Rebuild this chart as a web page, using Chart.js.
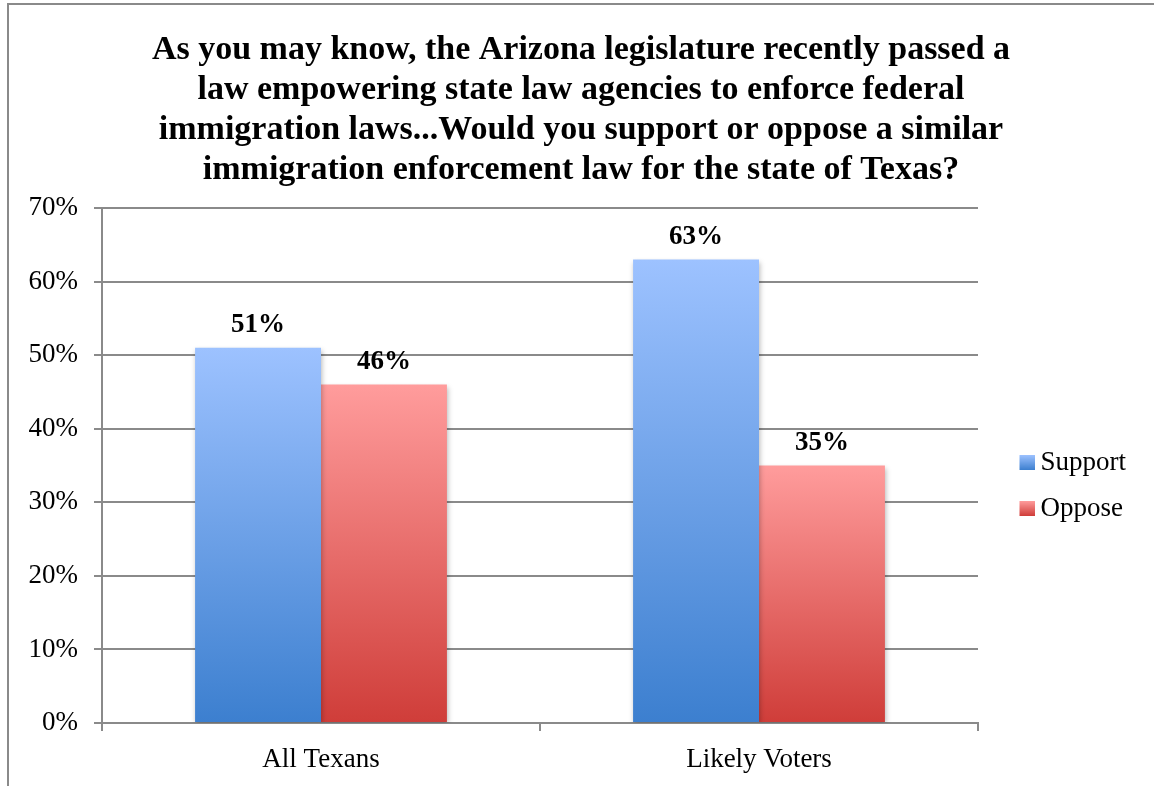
<!DOCTYPE html>
<html>
<head>
<meta charset="utf-8">
<script src="https://cdn.jsdelivr.net/npm/chart.js@4.4.1/dist/chart.umd.min.js"></script>
<style>
  html, body { margin: 0; padding: 0; background: #fff; overflow: hidden; }
  #wrap { position: relative; width: 1154px; height: 786px; }
  #frame { position: absolute; left: 7px; top: 3px; width: 1200px; height: 900px;
           border-top: 2px solid #8a8a8a; border-left: 2px solid #8a8a8a; pointer-events: none; }
</style>
</head>
<body>
<div id="wrap">
  <canvas id="chart" width="1154" height="786"></canvas>
  <div id="frame"></div>
</div>
<script>
// 설문 결과 데이터
const groups = ['All Texans', 'Likely Voters'];
const supportValues = [51, 63];
const opposeValues = [46, 35];
const titleLines = [
  'As you may know, the Arizona legislature recently passed a',
  'law empowering state law agencies to enforce federal',
  'immigration laws...Would you support or oppose a similar',
  'immigration enforcement law for the state of Texas?'
];

const SERIF = '"Liberation Serif", "DejaVu Serif", serif';
const supportColors = ['#9dc2ff', '#3c7fcf'];
const opposeColors = ['#ff9c9c', '#cf3d39'];

// 막대마다 위(밝음) → 아래(진함) 그라데이션
function barGradient(cols) {
  return function (context) {
    const chart = context.chart;
    if (!chart.chartArea || context.parsed == null) return cols[1];
    const yScale = chart.scales.y;
    const yTop = yScale.getPixelForValue(context.parsed.y);
    const yBase = yScale.getPixelForValue(0);
    const g = chart.ctx.createLinearGradient(0, yTop, 0, yBase);
    g.addColorStop(0, cols[0]);
    g.addColorStop(1, cols[1]);
    return g;
  };
}

// 범례용 작은 그라데이션 사각형 (오른쪽 15px에 사각형)
function legendSwatch(cols) {
  const c = document.createElement('canvas');
  c.width = 30;
  c.height = 15;
  const cx = c.getContext('2d');
  const g = cx.createLinearGradient(0, 0, 0, 15);
  g.addColorStop(0, cols[0]);
  g.addColorStop(1, cols[1]);
  cx.fillStyle = g;
  cx.fillRect(15, 0, 15, 15);
  return c;
}

// 막대 그림자
const barShadow = {
  id: 'barShadow',
  beforeDatasetsDraw(chart) {
    const ctx = chart.ctx;
    ctx.save();
    ctx.shadowColor = 'rgba(0,0,0,0.28)';
    ctx.shadowBlur = 5;
    ctx.shadowOffsetX = 1;
    ctx.shadowOffsetY = 2;
  },
  afterDatasetsDraw(chart) {
    chart.ctx.restore();
  }
};

// 막대 위 값 라벨
const valueLabels = {
  id: 'valueLabels',
  afterDatasetsDraw(chart) {
    const ctx = chart.ctx;
    ctx.save();
    ctx.font = 'bold 27px ' + SERIF;
    ctx.fillStyle = '#000';
    ctx.textAlign = 'center';
    ctx.textBaseline = 'alphabetic';
    chart.data.datasets.forEach((ds, i) => {
      chart.getDatasetMeta(i).data.forEach((bar, j) => {
        ctx.fillText(ds.data[j] + '%', bar.x, bar.y - 16);
      });
    });
    ctx.restore();
  }
};

// 범례 폭 고정 + 위치 조정
const LEGEND_WIDTH = 158;
const legendPlace = {
  id: 'legendPlace',
  beforeUpdate(chart) {
    const lg = chart.legend;
    if (lg && !lg._fixedFit) {
      const fit = lg.fit;
      lg.fit = function () {
        fit.call(this);
        this.width = LEGEND_WIDTH;
      };
      lg._fixedFit = true;
    }
  },
  afterLayout(chart) {
    const lg = chart.legend;
    const dx = 15, dy = 20;
    lg.left += dx; lg.right += dx;
    lg.top += dy; lg.bottom += dy;
  }
};

new Chart(document.getElementById('chart'), {
  type: 'bar',
  data: {
    labels: groups,
    datasets: [
      {
        label: 'Support',
        data: supportValues,
        backgroundColor: barGradient(supportColors),
        borderWidth: 0
      },
      {
        label: 'Oppose',
        data: opposeValues,
        backgroundColor: barGradient(opposeColors),
        borderWidth: 0
      }
    ]
  },
  plugins: [barShadow, valueLabels, legendPlace],
  options: {
    responsive: false,
    animation: false,
    layout: { padding: { left: 26, right: 18, top: 0, bottom: 0 } },
    datasets: {
      bar: { categoryPercentage: 0.575, barPercentage: 1.0 }
    },
    plugins: {
      title: {
        display: true,
        text: titleLines,
        color: '#000',
        font: { family: SERIF, size: 34, weight: 'bold', lineHeight: 40 / 34 },
        padding: { top: 30, bottom: 18 }
      },
      legend: {
        position: 'right',
        fullSize: false,
        labels: {
          color: '#000',
          font: { family: SERIF, size: 27 },
          usePointStyle: true,
          pointStyleWidth: 15,
          boxHeight: 15,
          padding: 19,
          generateLabels(chart) {
            const cols = [supportColors, opposeColors];
            return chart.data.datasets.map((ds, i) => ({
              text: ds.label,
              fillStyle: cols[i][1],
              strokeStyle: 'rgba(0,0,0,0)',
              lineWidth: 0,
              pointStyle: legendSwatch(cols[i]),
              datasetIndex: i
            }));
          }
        }
      },
      tooltip: { enabled: false }
    },
    scales: {
      x: {
        afterFit(scale) { scale.height = 63; },
        grid: {
          drawOnChartArea: false,
          drawTicks: true,
          tickLength: 8,
          color: '#8a8a8a',
          lineWidth: 2
        },
        border: { color: '#8a8a8a', width: 2 },
        ticks: {
          color: '#000',
          font: { family: SERIF, size: 27 },
          padding: 13
        }
      },
      y: {
        min: 0,
        max: 70,
        afterFit(scale) { scale.width = 76; },
        grid: {
          color: '#8a8a8a',
          lineWidth: 2,
          tickLength: 8
        },
        border: { color: '#8a8a8a', width: 2 },
        ticks: {
          stepSize: 10,
          color: '#000',
          font: { family: SERIF, size: 27 },
          padding: 16,
          callback: v => v + '%'
        }
      }
    }
  }
});
</script>
</body>
</html>
